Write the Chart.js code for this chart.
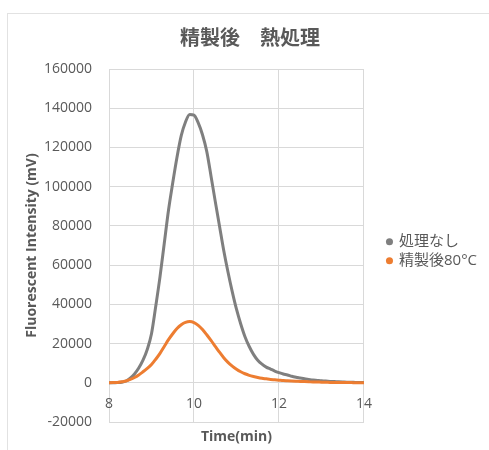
<!DOCTYPE html>
<html lang="ja">
<head>
<meta charset="utf-8">
<title>精製後 熱処理</title>
<script src="https://cdn.jsdelivr.net/npm/chart.js@4"></script>
<style>
  html, body { margin: 0; padding: 0; background: #ffffff; }
  #wrap { position: relative; width: 489px; height: 450px; overflow: hidden; }
  #frame { position: absolute; left: 7px; top: 13px; width: 520px; height: 520px;
           border: 1px solid #e2e2e2; box-sizing: border-box; }
  #chart { position: absolute; left: 0; top: 0; }
</style>
</head>
<body>
<div id="wrap">
  <div id="frame"></div>
  <canvas id="chart" width="489" height="450"></canvas>
</div>
<script>
// Retention time (min)
const times = [
  8.0, 8.1, 8.2, 8.3, 8.4, 8.5, 8.6, 8.7, 8.8, 8.9,
  9.0, 9.1, 9.2, 9.3, 9.4, 9.5, 9.6, 9.7, 9.8, 9.9,
  10.0, 10.1, 10.2, 10.3, 10.4, 10.5, 10.6, 10.7, 10.8, 10.9,
  11.0, 11.1, 11.2, 11.3, 11.4, 11.5, 11.6, 11.7, 11.8, 11.9,
  12.0, 12.1, 12.2, 12.3, 12.4, 12.5, 12.6, 12.7, 12.8, 12.9,
  13.0, 13.1, 13.2, 13.3, 13.4, 13.5, 13.6, 13.7, 13.8, 13.9,
  14.0
];

// Fluorescent intensity (mV), untreated
const untreated = [
  0, 0, 100, 300, 900, 2300, 4500, 7500, 11500, 17000,
  25000, 39000, 54000, 71000, 88000, 102000, 115000, 126000, 133000, 136800,
  136500, 132500, 126500, 118000, 105500, 92500, 80000, 67500, 56500, 46500,
  37500, 30000, 23500, 18500, 14500, 11500, 9500, 8000, 7000, 6000,
  5200, 4500, 4000, 3300, 2800, 2400, 2000, 1700, 1400, 1200,
  1000, 900, 700, 600, 500, 400, 300, 300, 200, 200,
  100
];

// Fluorescent intensity (mV), purified then heated at 80°C
const heated80 = [
  0, 100, 200, 500, 900, 1700, 2700, 4000, 5600, 7300,
  9300, 12000, 15000, 18500, 22000, 25000, 27700, 29600, 30800, 31200,
  30700, 29300, 27200, 24500, 21600, 18600, 15600, 12800, 10400, 8500,
  6900, 5600, 4600, 3800, 3200, 2700, 2300, 2000, 1700, 1500,
  1300, 1100, 1000, 900, 800, 700, 600, 500, 400, 400,
  300, 300, 200, 200, 200, 100, 100, 100, 0, 0,
  0
];

const seriesNames = ['処理なし', '精製後80°C'];
const chartTitle = '精製後　熱処理';
const xTitle = 'Time(min)';
const yTitle = 'Fluorescent Intensity (mV)';
const xTicks = [8, 10, 12, 14];
const yTicks = [-20000, 0, 20000, 40000, 60000, 80000, 100000, 120000, 140000, 160000];

const GREY = '#7f7f7f';
const ORANGE = '#ed7d31';
const TEXT = '#595959';
const GRID = '#d9d9d9';
const LATIN = '"Open Sans", "Noto Sans CJK JP", sans-serif';
const CJK = '"Noto Sans CJK JP", sans-serif';

Chart.defaults.font.family = LATIN;
Chart.defaults.color = TEXT;

const toPoints = (vals) => times.map((t, i) => ({ x: t, y: vals[i] }));

const chart = new Chart(document.getElementById('chart'), {
  type: 'line',
  data: {
    datasets: [
      {
        label: seriesNames[0],
        data: toPoints(untreated),
        borderColor: GREY,
        backgroundColor: GREY,
        borderWidth: 3,
        pointRadius: 0,
        cubicInterpolationMode: 'monotone',
        order: 2
      },
      {
        label: seriesNames[1],
        data: toPoints(heated80),
        borderColor: ORANGE,
        backgroundColor: ORANGE,
        borderWidth: 3,
        pointRadius: 0,
        cubicInterpolationMode: 'monotone',
        order: 1
      }
    ]
  },
  options: {
    responsive: false,
    animation: false,
    events: [],
    layout: { padding: { left: 13, right: 2, top: 0, bottom: 28 } },
    plugins: {
      tooltip: { enabled: false },
      title: {
        display: true,
        text: chartTitle,
        color: TEXT,
        font: { family: CJK, size: 20, weight: 'bold', lineHeight: 1.2 },
        padding: { top: 25, bottom: 20 }
      },
      legend: {
        position: 'right',
        fullSize: false,
        maxWidth: 140,
        title: { display: true, text: '', font: { size: 9.5, lineHeight: 1.2 }, padding: 0 },
        labels: {
          color: TEXT,
          font: { family: LATIN, size: 15 },
          usePointStyle: true,
          pointStyle: 'circle',
          boxWidth: 4,
          boxHeight: 5,
          padding: 4,
          sort: (a, b) => a.datasetIndex - b.datasetIndex,
          generateLabels: (c) =>
            Chart.defaults.plugins.legend.labels.generateLabels(c)
              .map((item) => Object.assign(item, { lineWidth: 0, pointStyle: 'circle' }))
        }
      }
    },
    scales: {
      x: {
        type: 'linear',
        position: { y: 0 },
        min: 8,
        max: 14,
        afterBuildTicks: (scale) => { scale.ticks = xTicks.map((v) => ({ value: v })); },
        ticks: { color: TEXT, font: { size: 14 }, padding: 13 },
        grid: { color: GRID, lineWidth: 1, drawTicks: false },
        border: { display: false },
        title: {
          display: true,
          text: xTitle,
          color: TEXT,
          font: { size: 14, weight: 'bold', lineHeight: 1.2 },
          padding: { top: 3, bottom: 0 }
        }
      },
      y: {
        type: 'linear',
        position: 'left',
        min: -20000,
        max: 160000,
        afterBuildTicks: (scale) => { scale.ticks = yTicks.map((v) => ({ value: v })); },
        afterFit: (scale) => { scale.width = 96; },
        ticks: { color: TEXT, font: { size: 14 }, padding: 17, callback: (v) => String(v) },
        grid: { color: GRID, lineWidth: 1, drawTicks: false },
        border: { display: false },
        title: {
          display: true,
          text: yTitle,
          color: TEXT,
          font: { size: 14, weight: 'bold', lineHeight: 1.2 },
          padding: { top: 11, bottom: 0 }
        }
      },
      legendGap: {
        type: 'linear',
        position: 'right',
        display: true,
        afterFit: (scale) => { scale.width = 19.5; },
        ticks: { display: false },
        grid: { display: false, drawOnChartArea: false },
        border: { display: false }
      }
    }
  }
});

// Re-run layout once the fonts are ready so text widths are measured with them
Promise.all([
  document.fonts.load('15px "Noto Sans CJK JP"', seriesNames.join('')),
  document.fonts.load('15px "Open Sans"', '80°C'),
  document.fonts.load('bold 14px "Open Sans"', xTitle + yTitle),
  document.fonts.load('bold 20px "Noto Sans CJK JP"', chartTitle)
]).then(() => chart.update()).catch(() => chart.update());
</script>
</body>
</html>
